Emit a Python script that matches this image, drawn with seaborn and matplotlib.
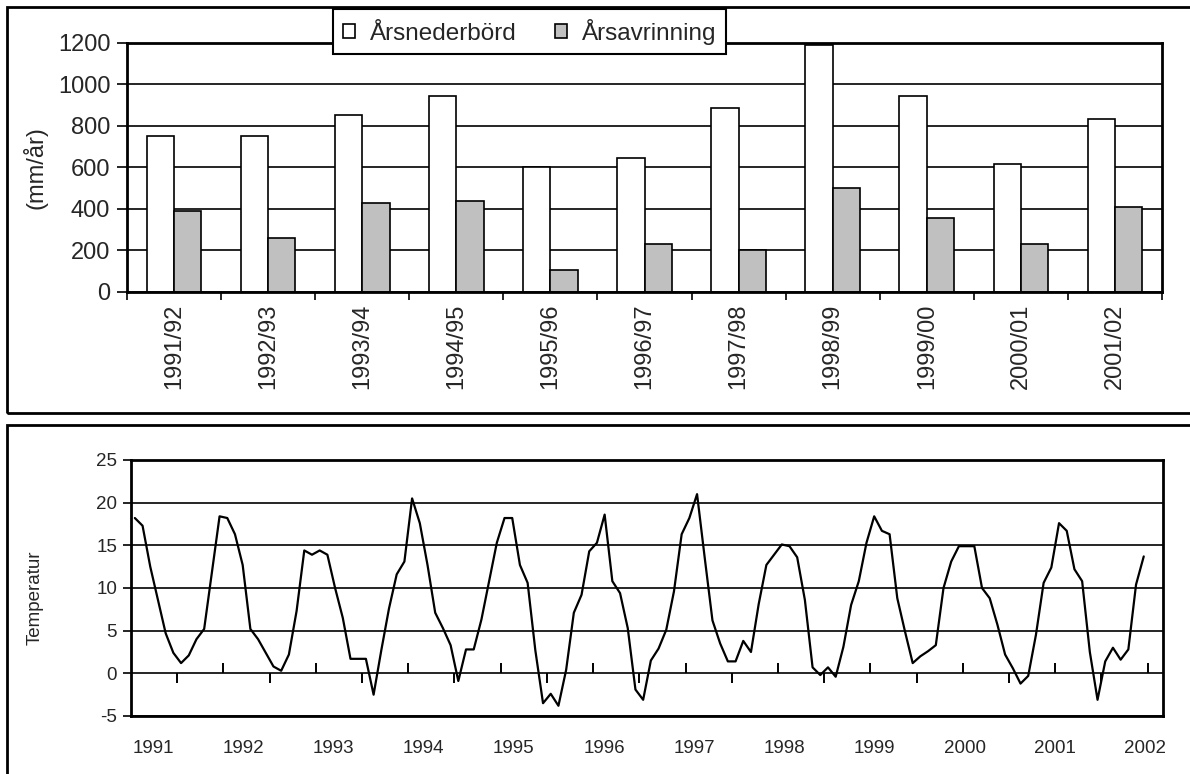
import numpy as np
import pandas as pd
import matplotlib
matplotlib.use("Agg")
import matplotlib.pyplot as plt
from matplotlib.patches import Rectangle
import seaborn as sns

# hydrologiska år (övre diagrammet)
seasons = ["1991/92", "1992/93", "1993/94", "1994/95", "1995/96", "1996/97",
           "1997/98", "1998/99", "1999/00", "2000/01", "2001/02"]
nederbord = [750, 750, 855, 945, 600, 645, 885, 1190, 945, 615, 835]
avrinning = [390, 260, 430, 440, 105, 230, 200, 500, 355, 230, 410]

# månadsmedeltemperatur (nedre diagrammet)
temp = [18.2, 17.3, 12.5, 8.6, 4.7, 2.4, 1.2, 2.1, 4.0, 5.2, 11.8, 18.4,
        18.2, 16.3, 12.7, 5.2, 4.0, 2.4, 0.8, 0.3, 2.2, 7.3, 14.4, 13.9,
        14.4, 13.9, 10.0, 6.5, 1.7, 1.7, 1.7, -2.5, 2.7, 7.6, 11.6, 13.1,
        20.5, 17.6, 12.7, 7.1, 5.3, 3.3, -0.9, 2.8, 2.8, 6.3, 10.8, 15.3,
        18.2, 18.2, 12.7, 10.6, 2.7, -3.5, -2.4, -3.8, 0.4, 7.1, 9.2, 14.3,
        15.3, 18.6, 10.8, 9.4, 5.3, -1.9, -3.1, 1.5, 2.9, 5.1, 9.6, 16.3,
        18.2, 21.0, 13.5, 6.2, 3.5, 1.4, 1.4, 3.8, 2.5, 8.1, 12.7, 13.9,
        15.1, 14.9, 13.6, 8.6, 0.7, -0.2, 0.7, -0.4, 3.1, 8.0, 10.8, 15.3,
        18.4, 16.7, 16.3, 8.8, 4.9, 1.2, 2.0, 2.6, 3.3, 10.0, 13.1, 14.9,
        14.9, 14.9, 10.0, 8.8, 5.7, 2.2, 0.6, -1.2, -0.3, 4.5, 10.6, 12.4,
        17.6, 16.7, 12.2, 10.8, 2.5, -3.1, 1.4, 3.0, 1.6, 2.8, 10.4, 13.7]
year_labels = ["1991", "1992", "1993", "1994", "1995", "1996",
               "1997", "1998", "1999", "2000", "2001", "2002"]

sns.set_theme(style="white")
plt.rcParams["font.family"] = ["Liberation Sans", "DejaVu Sans"]
plt.rcParams["axes.unicode_minus"] = False
fs_top = 17
fs_bot = 13.5

fig = plt.figure(figsize=(11.9, 7.74), dpi=100)

# ramar runt de två diagrammen
fig.add_artist(Rectangle((7 / 1190, 1 - 413 / 774), 1.2, 406 / 774,
                         transform=fig.transFigure, fill=False, lw=2, ec="black"))
fig.add_artist(Rectangle((7 / 1190, -0.2), 1.2, 0.2 + 1 - 425 / 774,
                         transform=fig.transFigure, fill=False, lw=2, ec="black"))

ax1 = fig.add_axes([127 / 1190, 1 - 292 / 774, 1035 / 1190, 249 / 774])
ax2 = fig.add_axes([131 / 1190, 1 - 716 / 774, 1032 / 1190, 256 / 774])

# --- nederbörd / avrinning ---
bars = pd.DataFrame({
    "season": seasons * 2,
    "value": nederbord + avrinning,
    "serie": ["Årsnederbörd"] * len(seasons) + ["Årsavrinning"] * len(seasons),
})
sns.barplot(data=bars, x="season", y="value", hue="serie",
            palette=["white", "#c0c0c0"], saturation=1, errorbar=None,
            edgecolor="black", linewidth=1.2, width=0.58, ax=ax1)
handles, labels = ax1.get_legend_handles_labels()
ax1.get_legend().remove()

ax1.set_xlim(-0.5, len(seasons) - 0.5)
ax1.set_ylim(0, 1200)
ax1.set_yticks(range(0, 1201, 200))
ax1.yaxis.grid(True, color="black", lw=1.2)
ax1.set_axisbelow(True)
ax1.set_xticks(np.arange(len(seasons) + 1) - 0.5, minor=True)
ax1.tick_params(axis="x", which="major", length=0, pad=8.5, rotation=90, labelsize=fs_top)
ax1.tick_params(axis="x", which="minor", bottom=True, length=6, width=1.2, color="black")
ax1.tick_params(axis="y", left=True, length=7, width=1.2, color="black", labelsize=fs_top, pad=5)
ax1.set_xlabel("")
ax1.set_ylabel("(mm/år)", fontsize=fs_top)
ax1.yaxis.set_label_coords(-0.077, 0.5)
for s in ax1.spines.values():
    s.set_color("black")
    s.set_linewidth(2)

leg = fig.legend(handles, labels, ncol=2, loc="upper left",
                 bbox_to_anchor=(333 / 1190, 1 - 9 / 774), borderaxespad=0,
                 frameon=True, fancybox=False, edgecolor="black", framealpha=1,
                 handlelength=0.5, handleheight=0.5, handletextpad=0.6,
                 columnspacing=1.6, borderpad=0.4, fontsize=17.5)
leg.get_frame().set_linewidth(1.5)

# --- temperatur ---
month_idx = np.arange(len(temp))
sns.lineplot(x=month_idx, y=temp, color="black", lw=1.6, ax=ax2)
ax2.set_xlim(-0.5, 133.5)
ax2.set_ylim(-5, 25)
ax2.set_yticks(range(-5, 26, 5))
ax2.yaxis.grid(True, color="black", lw=1.2)
ax2.set_axisbelow(True)
ax2.set_xticks(np.linspace(2.35, 131.2, len(year_labels)))
ax2.set_xticklabels(year_labels)
ax2.tick_params(axis="x", length=0, pad=17, labelsize=fs_bot)
ax2.tick_params(axis="y", left=True, length=6, width=1.2, color="black", labelsize=fs_bot, pad=4)
ax2.set_ylabel("Temperatur", fontsize=fs_bot)
ax2.yaxis.set_label_coords(-0.085, 0.46)
for s in ax2.spines.values():
    s.set_color("black")
    s.set_linewidth(2)

# streck på nollinjen (halvår ned, helår upp)
zero = ax2.secondary_xaxis(5 / 30)
zero.spines["bottom"].set_visible(False)
zero.set_xticks(np.arange(11.5, 133.5, 12))
zero.set_xticks(np.arange(5.5, 133.5, 12), minor=True)
zero.tick_params(which="major", direction="in", length=7, width=1.4, color="black", labelbottom=False)
zero.tick_params(which="minor", direction="out", length=7, width=1.4, color="black")

fig.savefig("out.png", dpi=100)
